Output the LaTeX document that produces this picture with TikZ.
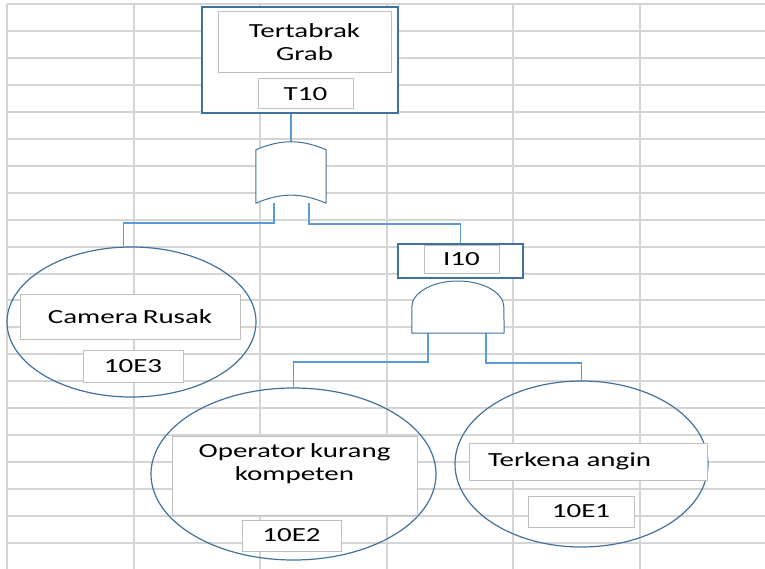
\documentclass[tikz,border=0pt]{standalone}
\usepackage{fontspec}
\newfontfamily\lblfont[FakeStretch=1.45,WordSpace=0.7]{Carlito}
\usepackage{xcolor}
\usetikzlibrary{positioning,calc,shapes.geometric}

\definecolor{outblue}{RGB}{65,113,156}
\definecolor{linkblue}{RGB}{91,155,213}
\definecolor{boxgray}{RGB}{191,191,191}
\definecolor{gridgray}{RGB}{212,212,212}

\begin{document}
\begin{tikzpicture}[
  x=1pt, y=-1pt,
  gridln/.style={draw=gridgray, line width=2pt},
  lbl/.style={font=\lblfont\fontsize{20pt}{23pt}\selectfont, align=center,
    inner sep=0pt},
  outerbox/.style={draw=outblue, fill=white, line width=1.2pt, inner sep=0pt},
  txtbox/.style={lbl, draw=boxgray, fill=white, line width=1pt},
  basic/.style={ellipse, draw=outblue, line width=1.2pt, inner sep=0pt},
  gate/.style={rectangle, inner sep=0pt},
  gateline/.style={draw=outblue, fill=white, line width=1pt, line join=round},
  conn/.style={draw=linkblue, line width=1.5pt},
]
\useasboundingbox (0,0) rectangle (765,569);
% sheet grid
\foreach \gx in {7,134,260,387,513,640}
  \draw[gridln] (\gx,4) -- (\gx,569);
\foreach \k in {0,...,20}
  \draw[gridln] (7,{4+26.95*\k}) -- (765,{4+26.95*\k});

% basic events
\node[basic, minimum width=249pt, minimum height=150pt] (cam) at (131.5,322) {};
\node[basic, minimum width=285pt, minimum height=172pt] (opk) at (293.5,474) {};
\node[basic, minimum width=253pt, minimum height=166pt] (tka) at (581.5,464) {};

% top event and intermediate
\node[outerbox, minimum width=196pt, minimum height=106pt] (top) at (300,60) {};
\node[gate, minimum width=70pt, minimum height=53pt] (orG) at (291,176.5) {};
\node[outerbox, minimum width=125pt, minimum height=34pt] (I10box) at (460.5,261) {};
\node[gate, minimum width=92pt, minimum height=52pt] (andG) at (458,307) {};

% connectors
\draw[conn] (top.south -| orG.north) -- (orG.north);
\draw[conn] ([xshift=-17pt]orG.south) -- ++(0,20) -| ([xshift=-8pt]cam.north);
\draw[conn] ([xshift=18pt]orG.south) -- ++(0,21) -| (I10box.north);
\draw[conn] ([xshift=-30pt]andG.south) -- ++(0,29) -| (opk.north);
\draw[conn] ([xshift=28pt]andG.south) -- ++(0,30) -| (tka.north);

% gates
\draw[gateline] (orG.north west) to[bend left=23] (orG.north east)
  -- (orG.south east) to[bend right=23] (orG.south west) -- cycle;
\draw[gateline] (andG.south west) -- (andG.west)
  arc[start angle=180, end angle=0, x radius=46pt, y radius=26pt]
  -- (andG.south east) -- cycle;

% labels
\node[txtbox, minimum width=173pt, minimum height=61pt] (grab) at (304.5,42.5) {Tertabrak\\Grab};
\node[txtbox, minimum width=95pt, minimum height=30pt, below=5pt of grab, xshift=1pt] (T10) {T10};
\node[txtbox, minimum width=75pt, minimum height=27pt] (I10) at (461.5,259.5) {I10};

\node[txtbox, minimum width=220pt, minimum height=45pt] (camtxt) at (130,316.5) {Camera Rusak};
\node[txtbox, minimum width=100pt, minimum height=32pt, below=10pt of camtxt, xshift=3pt] (E3) {10E3};

\node[txtbox, minimum width=245pt, minimum height=79pt] (opkbox) at (294.5,475.5) {};
\node[lbl, below=8pt of opkbox.north] (opktxt) {Operator kurang\\kompeten};
\node[txtbox, minimum width=99pt, minimum height=31pt, below=4pt of opkbox, xshift=-3pt] (E2) {10E2};

\node[txtbox, text width=200pt, align=left, inner xsep=19pt, minimum height=37pt] (tkatxt) at (588,461.5) {Terkena angin};
\node[txtbox, minimum width=106pt, minimum height=31pt, below=15pt of tkatxt, xshift=-7pt] (E1) {10E1};
\end{tikzpicture}
\end{document}
